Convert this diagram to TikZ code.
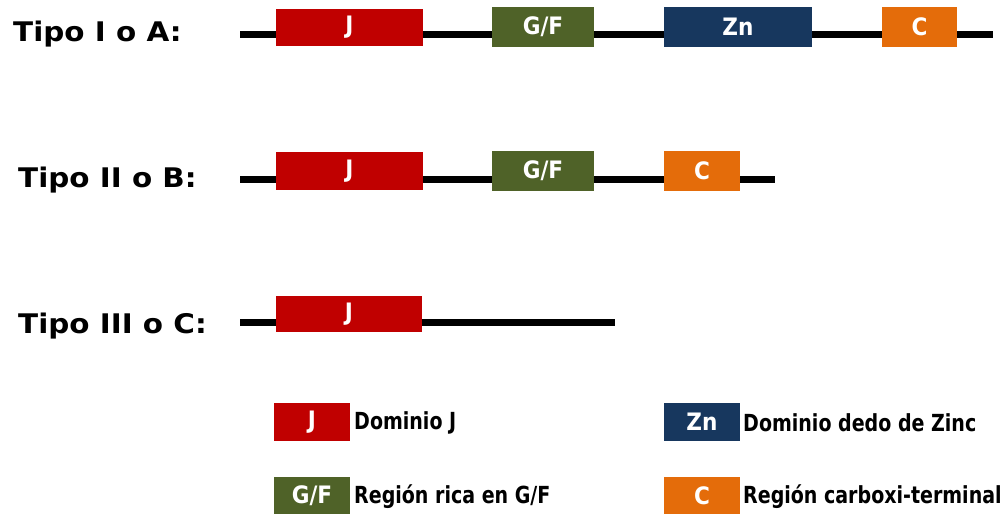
\documentclass[tikz,border=0pt]{standalone}
\usepackage{fontspec}
\setmainfont{DejaVu Sans}
\newfontfamily\lblfont{DejaVu Sans Bold}
\newfontfamily\boxfont{DejaVu Sans Condensed Bold}
\definecolor{cJ}{HTML}{C00000}
\definecolor{cGF}{HTML}{4F6228}
\definecolor{cZn}{HTML}{17375E}
\definecolor{cC}{HTML}{E46C0A}
\newcommand{\tiptext}[1]{\scalebox{1.09}[1]{#1}}
\newcommand{\legtext}[1]{\scalebox{0.9}[1]{#1}}
\tikzset{
  dom/.style={fill=#1, draw=none, inner sep=0pt, text=white,
    font=\boxfont\fontsize{24}{24}\selectfont},
  chain/.style={line width=7pt, black},
  tipo/.style={anchor=west, inner sep=0pt, font=\lblfont\fontsize{27}{27}\selectfont},
  leg/.style={anchor=west, inner sep=0pt, font=\boxfont\fontsize{23.5}{23.5}\selectfont},
}
\begin{document}
\begin{tikzpicture}[x=1pt,y=-1pt]
\useasboundingbox (0,0) rectangle (1000,514);
% Row 1
\node[tipo] (t1) at (13,34) {\tiptext{Tipo I o A:}};
\coordinate (r1s) at (240,34.5);
\coordinate (r1e) at (993,34.5);
\draw[chain] (r1s) -- (r1e);
\node[dom=cJ, minimum width=147pt, minimum height=37pt] (a1) at (349.5,27.5) {J};
\node[dom=cGF, minimum width=102pt, minimum height=40pt] (a2) at (543,27) {G/F};
\node[dom=cZn, minimum width=148pt, minimum height=40pt] (a3) at (738,27) {Zn};
\node[dom=cC, minimum width=75pt, minimum height=40pt] (a4) at (919.5,27) {C};
% Row 2
\node[tipo] (t2) at (18,180) {\tiptext{Tipo II o B:}};
\coordinate (r2s) at (240,179.5);
\coordinate (r2e) at (775,179.5);
\draw[chain] (r2s) -- (r2e);
\node[dom=cJ, minimum width=147pt, minimum height=38pt] (b1) at (349.5,171) {J};
\node[dom=cGF, minimum width=102pt, minimum height=40pt] (b2) at (543,171) {G/F};
\node[dom=cC, minimum width=76pt, minimum height=40pt] (b3) at (702,171) {C};
% Row 3
\node[tipo] (t3) at (18,326) {\tiptext{Tipo III o C:}};
\coordinate (r3s) at (240,322);
\coordinate (r3e) at (615,322);
\draw[chain] (r3s) -- (r3e);
\node[dom=cJ, minimum width=146pt, minimum height=36pt] (c1) at (349,314) {J};
% Legend
\node[dom=cJ, minimum width=76pt, minimum height=38pt] (lJ) at (312,422) {J};
\node[leg] (tJ) at (354,423) {\legtext{Dominio J}};
\node[dom=cZn, minimum width=76pt, minimum height=38pt] (lZn) at (702,422) {Zn};
\node[leg] (tZn) at (743,423) {\legtext{Dominio dedo de Zinc}};
\node[dom=cGF, minimum width=76pt, minimum height=37pt] (lGF) at (312,495.5) {G/F};
\node[leg] (tGF) at (354,496.5) {\legtext{Región rica en G/F}};
\node[dom=cC, minimum width=76pt, minimum height=37pt] (lC) at (702,495.5) {C};
\node[leg] (tC) at (743,496.5) {\legtext{Región carboxi-terminal}};
\end{tikzpicture}
\end{document}
